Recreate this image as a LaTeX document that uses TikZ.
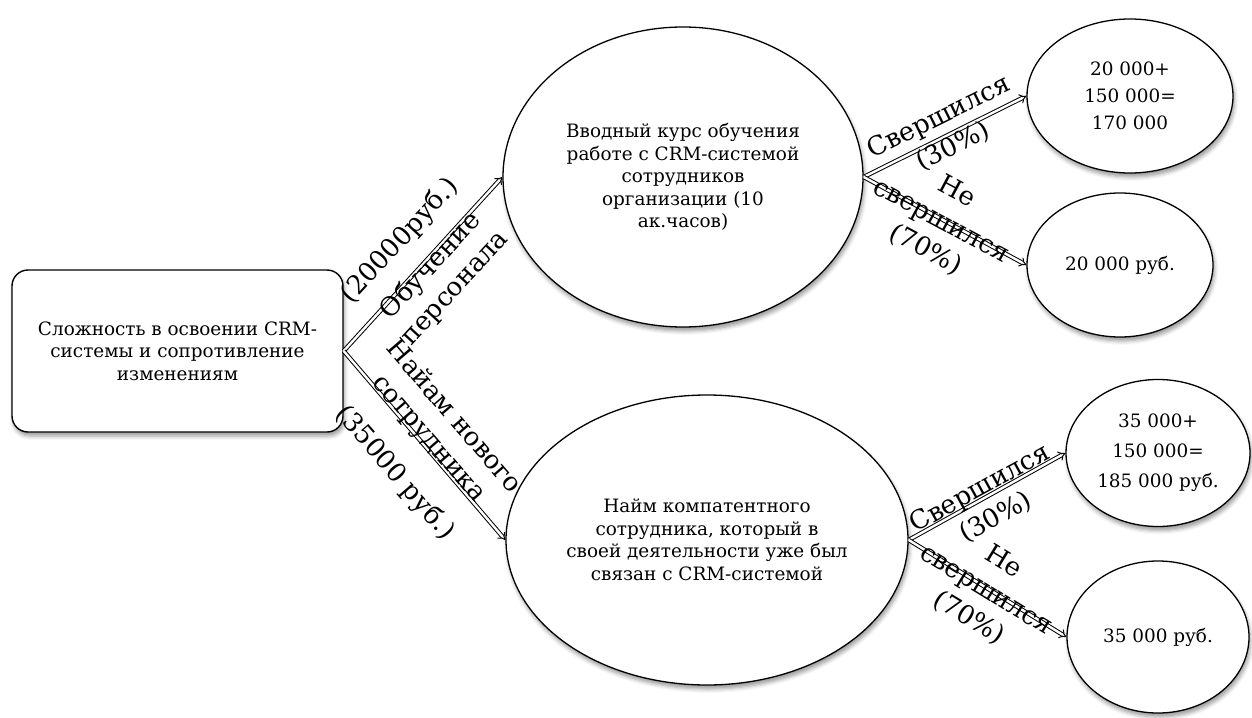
\documentclass[tikz,border=0pt]{standalone}
\usepackage{fontspec}
\setmainfont{DejaVu Serif}
\usetikzlibrary{shapes.geometric,arrows.meta,shadows.blur}
\newcommand\txtfont{\fontsize{18.4}{22.5}\selectfont}
\newcommand\lblfont{\fontsize{26}{33}\selectfont}
\begin{document}
\begin{tikzpicture}[x=1pt,y=-1pt,
  shd/.style={blur shadow={shadow xshift=1.5pt, shadow yshift=-4pt, shadow blur radius=4pt, shadow opacity=40}},
  box/.style={draw, line width=1.4pt, rounded corners=16pt, fill=white, shd,
    minimum width=331pt, minimum height=162pt, align=center, font=\txtfont, inner sep=0pt},
  oval/.style={ellipse, draw, line width=1.3pt, fill=white, shd, inner sep=0pt,
    align=center, font=\txtfont},
  conn/.style={double, double distance=2.4pt, line width=1pt, -{Implies}},
  lbl/.style={align=center, font=\lblfont, inner sep=0pt}
]
\useasboundingbox (0,0) rectangle (1252,717);

\node[box] (r) at (177.5,351) {Сложность в освоении CRM-\\системы и сопротивление\\изменениям};
\node[oval, minimum width=360pt, minimum height=300pt] (e1) at (683,177)
  {Вводный курс обучения\\работе с CRM-системой\\сотрудников\\организации (10\\ак.часов)};
\node[oval, minimum width=402pt, minimum height=290pt] (e2) at (707,540)
  {Найм компатентного\\сотрудника, который в\\своей деятельности уже был\\связан с CRM-системой};
\node[oval, minimum width=206pt, minimum height=154pt] (s1) at (1130,96)
  {20 000+\\[4.5pt]150 000=\\[4.5pt]170 000};
\node[oval, minimum width=186pt, minimum height=144pt] (s2) at (1120,265) {20 000 руб.};
\node[oval, minimum width=184pt, minimum height=147pt] (s3) at (1158,453)
  {35 000+\\[7.5pt]150 000=\\[7.5pt]185 000 руб.};
\node[oval, minimum width=182pt, minimum height=152pt] (s4) at (1158,637) {35 000 руб.};

\draw[conn] (r.east) -- (e1.west);
\draw[conn] (r.east) -- (e2.west);
\draw[conn] (e1.east) -- (s1.west);
\draw[conn] (e1.east) -- (s2.west);
\draw[conn] (e2.east) -- (s3.west);
\draw[conn] (e2.east) -- (s4.west);

\node[lbl, rotate=47.4] (l1) at (400,241) {(20000руб.)};
\node[lbl, rotate=47.4] (l2) at (443,277) {Обучение\\персонала};
\node[lbl, rotate=-49.2] (l3) at (441,428) {Найам нового\\сотрудника};
\node[lbl, rotate=-49.2] (l4) at (395,473) {(35000 руб.)};
\node[lbl, rotate=26.3] (l5) at (946,132) {Свершился\\(30\%)};
\node[lbl, rotate=-28.2] (l6) at (941,221) {Не\\свершился\\(70\%)};
\node[lbl, rotate=28.8] (l7) at (988,503) {Свершился\\(30\%)};
\node[lbl, rotate=-31.4] (l8) at (986,590) {Не\\свершился\\(70\%)};
\end{tikzpicture}
\end{document}
